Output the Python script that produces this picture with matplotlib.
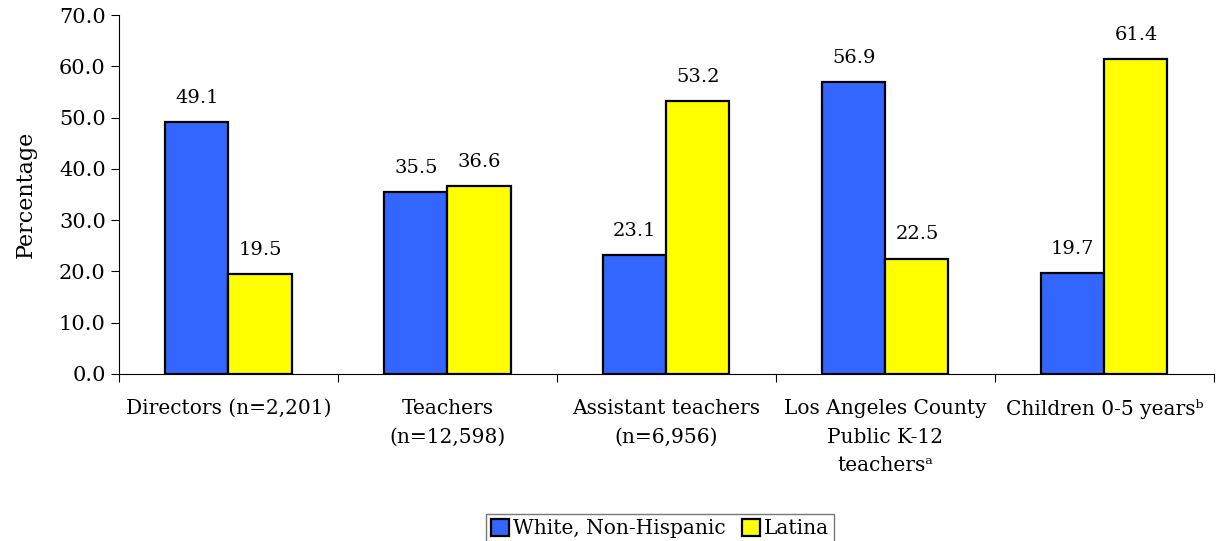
import matplotlib.pyplot as plt
import numpy as np

categories = ["Directors (n=2,201)", "Teachers\n(n=12,598)", "Assistant teachers\n(n=6,956)",
              "Los Angeles County\nPublic K-12\nteachers\u1d43", "Children 0-5 years\u1d47"]
white = [49.1, 35.5, 23.1, 56.9, 19.7]
latina = [19.5, 36.6, 53.2, 22.5, 61.4]
series_names = ["White, Non-Hispanic", "Latina"]

plt.rcParams['font.family'] = ['DejaVu Serif', 'DejaVu Sans']

fig = plt.figure(figsize=(12.2, 5.41), dpi=100)
ax = fig.add_axes([0.0975, 0.309, 0.8975, 0.663])

x = np.arange(len(categories))
w = 0.288
b1 = ax.bar(x - w/2, white, w, color='#3366FF', edgecolor='black', linewidth=1.6, label=series_names[0])
b2 = ax.bar(x + w/2, latina, w, color='#FFFF00', edgecolor='black', linewidth=1.6, label=series_names[1])

# value labels above each bar
for bars, vals in ((b1, white), (b2, latina)):
    for r, v in zip(bars, vals):
        ax.text(r.get_x() + r.get_width()/2, v + 3.0, f"{v:.1f}", ha='center', va='bottom', fontsize=14)

ax.set_xlim(-0.5, len(categories) - 0.5)
ax.set_ylim(0, 70)
ax.set_yticks(np.arange(0, 71, 10))
ax.set_yticklabels([f"{t:.1f}" for t in np.arange(0, 71, 10)], fontsize=15)
# group separators as major ticks, category names on minor ticks
ax.set_xticks(np.arange(-0.5, len(categories)))
ax.set_xticklabels([])
ax.set_xticks(x, minor=True)
ax.set_xticklabels(categories, minor=True, fontsize=14.5, linespacing=1.65, va='top')
ax.tick_params(axis='x', which='minor', length=0, pad=18)
ax.tick_params(axis='x', which='major', length=6, direction='out')
ax.tick_params(axis='y', length=6, direction='out')
ax.set_ylabel("Percentage", fontsize=16, labelpad=16)

for s in ('top', 'right'):
    ax.spines[s].set_visible(False)

fig.legend(loc='lower center', bbox_to_anchor=(0.541, -0.012), ncol=2, fontsize=14.5, frameon=True,
           fancybox=False, edgecolor='#555555', handlelength=0.9, handleheight=0.9,
           handletextpad=0.2, columnspacing=0.8, borderpad=0.25, borderaxespad=0.2)

fig.savefig("out.png", dpi=100)
